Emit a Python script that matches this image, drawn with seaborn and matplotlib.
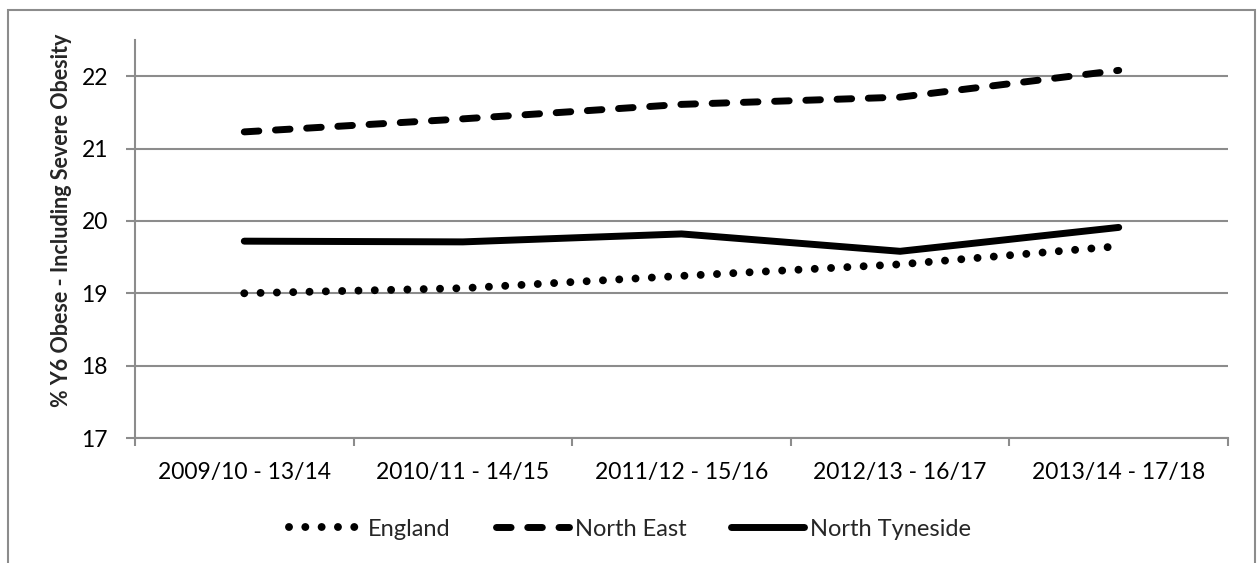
import matplotlib
matplotlib.use("Agg")
import matplotlib.pyplot as plt
from matplotlib.patches import Rectangle
from matplotlib.ticker import FixedLocator, NullFormatter
import seaborn as sns
import pandas as pd

periods = ["2009/10 - 13/14", "2010/11 - 14/15", "2011/12 - 15/16",
           "2012/13 - 16/17", "2013/14 - 17/18"]
england = [19.00, 19.07, 19.24, 19.40, 19.65]
north_east = [21.23, 21.41, 21.61, 21.71, 22.08]
north_tyneside = [19.72, 19.71, 19.82, 19.58, 19.91]
areas = ["England", "North East", "North Tyneside"]
y_ticks = [17, 18, 19, 20, 21, 22]

df = pd.DataFrame({
    "period": periods * 3,
    "value": england + north_east + north_tyneside,
    "area": [a for a in areas for _ in periods],
})

sns.set_theme(style="white")
plt.rcParams["font.family"] = ["Lato", "DejaVu Sans"]

grey = "#8c8c8c"
fs = 16.5
fig = plt.figure(figsize=(12.59, 5.63), dpi=100)
ax = fig.add_axes([0.1072, 0.222, 0.8682, 0.707])

dash_map = {"England": (0.001, 2.35), "North East": (2.1, 2.4), "North Tyneside": ""}
sns.lineplot(data=df, x="period", y="value", hue="area", style="area",
             palette={a: "black" for a in areas}, dashes=dash_map,
             linewidth=5, sort=False, ax=ax, legend=False)

for line in ax.lines:
    line.set_dash_capstyle("round")
    line.set_solid_capstyle("round")
    line.set_solid_joinstyle("round")

# slightly heavier round dots for the dotted series
ax.lines[0].set_linewidth(5.7)
ax.lines[0].set_dashes((0.001, 2.06))

ax.set_xlim(-0.5, len(periods) - 0.5)
ax.set_ylim(17, 22.5)
ax.set_yticks(y_ticks)
ax.yaxis.grid(True, color=grey, linewidth=1.5)
ax.xaxis.grid(False)
for side in ["top", "right"]:
    ax.spines[side].set_visible(False)
for side in ["left", "bottom"]:
    ax.spines[side].set_color(grey)
    ax.spines[side].set_linewidth(1.5)

ax.xaxis.set_minor_locator(FixedLocator([i - 0.5 for i in range(len(periods) + 1)]))
ax.xaxis.set_minor_formatter(NullFormatter())
ax.tick_params(axis="x", which="major", length=0, pad=17.5, labelsize=fs, colors="black")
ax.tick_params(axis="x", which="minor", length=6, width=1.5, color=grey, bottom=True)
ax.tick_params(axis="y", which="major", length=6.5, width=1.5, color=grey, left=True,
               labelsize=fs, pad=13, labelcolor="black")

ax.set_xlabel("")
ax.set_ylabel("% Y6 Obese - Including Severe Obesity", fontsize=15.5,
              fontweight="bold")
ax.yaxis.set_label_coords(-0.058, 0.548)

handles = ax.lines[:3]
leg = ax.legend(handles, areas, loc="center", bbox_to_anchor=(0.453, -0.229),
                ncol=3, frameon=False, fontsize=17, handlelength=3.1,
                handletextpad=0.25, columnspacing=1.9)

fig.patches.append(Rectangle((8 / 1259, -0.05), 1247 / 1259, 1.05 - 10 / 563,
                             transform=fig.transFigure, fill=False,
                             edgecolor=grey, linewidth=1.5))

fig.savefig("out.png", dpi=100)
